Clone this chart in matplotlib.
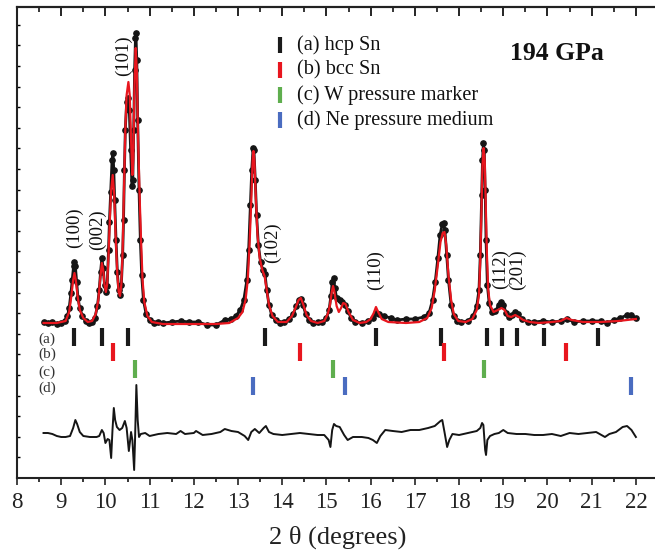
import numpy as np
import matplotlib
matplotlib.use("Agg")
import matplotlib.pyplot as plt

plt.rcParams['font.family'] = ['Liberation Serif', 'DejaVu Serif']

# ---------------- data (2theta in degrees, intensity in arbitrary units) ----------------
obs_tth = [8.60, 8.70, 8.80, 8.90, 9.00, 9.08, 9.14, 9.18, 9.22, 9.25, 9.28, 9.30, 9.32, 9.35, 9.38,
           9.42, 9.48, 9.55, 9.62, 9.70, 9.76, 9.82, 9.86, 9.89, 9.92, 9.95, 9.98, 10.01, 10.04, 10.07,
           10.09, 10.12, 10.15, 10.17, 10.19, 10.21, 10.24, 10.27, 10.30, 10.33, 10.36, 10.39, 10.41,
           10.43, 10.45, 10.48, 10.51, 10.54, 10.57, 10.60, 10.62, 10.64, 10.66, 10.68, 10.69, 10.71,
           10.73, 10.76, 10.79, 10.82, 10.86, 10.92, 11.00, 11.10, 11.20, 11.30, 11.50, 11.70, 11.90,
           12.10, 12.30, 12.50, 12.70, 12.85, 12.95, 13.05, 13.13, 13.20, 13.24, 13.28, 13.31, 13.34,
           13.36, 13.39, 13.42, 13.46, 13.51, 13.56, 13.61, 13.65, 13.70, 13.76, 13.85, 13.95, 14.05,
           14.15, 14.25, 14.32, 14.37, 14.42, 14.47, 14.53, 14.60, 14.70, 14.80, 14.90, 15.00, 15.06,
           15.10, 15.13, 15.16, 15.19, 15.23, 15.30, 15.36, 15.42, 15.48, 15.56, 15.65, 15.80, 15.95,
           16.05, 16.13, 16.20, 16.30, 16.45, 16.60, 16.80, 17.00, 17.20, 17.32, 17.40, 17.46, 17.52,
           17.57, 17.62, 17.65, 17.68, 17.72, 17.76, 17.82, 17.88, 17.95, 18.05, 18.20, 18.32, 18.40,
           18.45, 18.48, 18.51, 18.53, 18.55, 18.57, 18.59, 18.61, 18.64, 18.68, 18.74, 18.82, 18.90,
           18.95, 19.00, 19.07, 19.13, 19.20, 19.27, 19.33, 19.42, 19.55, 19.70, 19.90, 20.10, 20.30,
           20.45, 20.60, 20.80, 21.00, 21.20, 21.35, 21.50, 21.65, 21.80, 21.90, 22.00]
obs_int = [156, 155, 156, 154, 155, 157, 162, 170, 185, 198, 212, 216, 212, 196, 180,
           170, 162, 157, 155, 156, 160, 172, 188, 206, 220, 210, 193, 186, 192, 228,
           256, 286, 318, 325, 308, 278, 238, 206, 188, 183, 193, 223, 258,
           308, 348, 376, 380, 368, 328, 292, 298, 348, 408, 440, 445, 418,
           358, 288, 238, 203, 178, 164, 158, 155, 156, 155, 156, 157, 156,
           156, 153, 153, 158, 159, 162, 168, 178, 198, 228, 273, 308, 330,
           328, 298, 263, 233, 216, 208, 204, 188, 173, 163, 158, 155, 156,
           159, 164, 172, 178, 179, 173, 164, 158, 155, 156, 156, 160, 168,
           182, 196, 200, 190, 180, 178, 176, 173, 167, 160, 156, 155, 157,
           160, 165, 164, 162, 160, 158, 159, 159, 161, 165, 178, 196, 220,
           243, 254, 255, 248, 223, 198, 173, 162, 157, 156, 157, 162, 172,
           188, 223, 283, 318, 335, 328, 288, 238, 193, 175, 166, 167, 173,
           176, 173, 165, 161, 163, 166, 164, 159, 156, 156, 157, 156, 157,
           159, 156, 157, 157, 157, 155, 158, 160, 163, 163, 160]

calc_tth = [8.60, 8.90, 9.10, 9.18, 9.23, 9.27, 9.30, 9.33, 9.37, 9.42, 9.50, 9.60, 9.70, 9.78,
            9.84, 9.88, 9.92, 9.95, 9.98, 10.01, 10.04, 10.07, 10.10, 10.13, 10.165, 10.20, 10.23,
            10.27, 10.30, 10.33, 10.36, 10.39, 10.42, 10.45, 10.48, 10.52, 10.55, 10.58, 10.61, 10.63,
            10.655, 10.685, 10.71, 10.74, 10.78, 10.81, 10.84, 10.88, 10.95, 11.05, 11.30, 12.00,
            12.50, 12.80, 13.00, 13.10, 13.17, 13.22, 13.26, 13.30, 13.33, 13.35, 13.37, 13.40, 13.44,
            13.49, 13.55, 13.60, 13.65, 13.70, 13.78, 13.90, 14.10, 14.22, 14.30, 14.37, 14.42, 14.48,
            14.55, 14.65, 14.80, 14.95, 15.03, 15.08, 15.12, 15.15, 15.18, 15.23, 15.28, 15.33, 15.38,
            15.43, 15.50, 15.60, 15.75, 15.90, 16.00, 16.07, 16.12, 16.17, 16.25, 16.40, 16.80, 17.10,
            17.28, 17.38, 17.45, 17.52, 17.58, 17.63, 17.67, 17.71, 17.76, 17.82, 17.88, 17.98, 18.15,
            18.30, 18.40, 18.45, 18.48, 18.51, 18.53, 18.555, 18.58, 18.60, 18.63, 18.66, 18.70, 18.78,
            18.88, 18.96, 19.03, 19.10, 19.18, 19.27, 19.35, 19.45, 19.60, 19.80, 20.10, 20.30, 20.43,
            20.55, 20.80, 21.20, 21.60, 22.00]
calc_int = [155, 155, 157, 166, 182, 198, 205, 198, 182, 168, 160, 156, 157, 164,
            178, 198, 215, 208, 193, 186, 194, 223, 258, 288, 303, 283, 243,
            203, 186, 182, 193, 228, 288, 348, 383, 396, 383, 338, 303, 318,
            388, 430, 408, 338, 273, 233, 198, 176, 162, 156, 154, 154,
            154, 155, 160, 166, 178, 198, 233, 278, 318, 327, 318, 283, 243,
            220, 208, 202, 188, 173, 162, 156, 156, 162, 170, 178, 180, 173,
            163, 157, 155, 157, 164, 173, 186, 192, 186, 172, 166, 170, 175,
            174, 166, 158, 155, 156, 159, 165, 171, 166, 159, 156, 155, 156,
            160, 170, 188, 213, 236, 245, 246, 233, 203, 178, 164, 157, 156,
            159, 168, 183, 218, 273, 313, 330, 318, 278, 223, 188, 173, 166,
            168, 170, 168, 162, 161, 163, 161, 158, 156, 155, 156, 157, 160,
            158, 156, 156, 157, 159]

diff_tth = [8.6, 8.7, 8.8, 8.9, 9.0, 9.1, 9.2, 9.27, 9.32, 9.36, 9.42, 9.5, 9.65, 9.8, 9.86, 9.92,
            9.96, 10.0, 10.05, 10.09, 10.13, 10.16, 10.19, 10.22, 10.26, 10.32, 10.38, 10.44, 10.48,
            10.53, 10.56, 10.58, 10.61, 10.65, 10.67, 10.70, 10.73, 10.76, 10.8, 10.9, 11.0, 11.2,
            11.4, 11.6, 11.7, 11.8, 12.0, 12.05, 12.2, 12.4, 12.6, 12.7, 12.85, 13.0, 13.15, 13.23,
            13.3, 13.38, 13.48, 13.58, 13.63, 13.7, 13.8, 14.0, 14.2, 14.4, 14.6, 14.8, 14.95, 15.05,
            15.09, 15.13, 15.17, 15.22, 15.3, 15.4, 15.48, 15.6, 15.8, 15.95, 16.05, 16.14, 16.22,
            16.33, 16.5, 16.7, 16.9, 17.1, 17.3, 17.45, 17.58, 17.62, 17.67, 17.73, 17.78, 17.85,
            18.0, 18.2, 18.4, 18.48, 18.52, 18.55, 18.59, 18.61, 18.64, 18.7, 18.8, 18.9, 19.0, 19.1,
            19.3, 19.5, 19.7, 19.9, 20.1, 20.3, 20.5, 20.7, 20.9, 21.1, 21.3, 21.4, 21.55, 21.7, 21.8,
            21.9, 22.0]
diff_int = [45, 45, 44, 42, 41, 41, 42, 50, 58, 54, 46, 42, 41, 41, 42, 48,
            45, 35, 39, 38, 20, 48, 70, 58, 51, 48, 50, 57, 50,
            27, 38, 46, 38, 8, 38, 93, 58, 41, 44, 45, 42, 44,
            45, 44, 47, 44, 45, 47, 43, 44, 46, 49, 47, 46, 42, 38,
            46, 49, 45, 50, 52, 46, 44, 43, 44, 45, 44, 43, 43, 38,
            31, 48, 54, 52, 51, 43, 38, 41, 41, 40, 38, 35, 42,
            48, 47, 46, 48, 48, 50, 52, 57, 58, 46, 31, 38, 44,
            43, 45, 47, 50, 55, 53, 28, 23, 38, 42, 44, 45, 48, 45,
            44, 44, 43, 43, 44, 42, 45, 44, 45, 46, 41, 44, 46, 51, 52,
            48, 41]

# reflection positions (2theta)
hcp_pos = [9.29, 9.92, 10.52, 13.61, 16.12, 17.59, 18.63, 18.97, 19.31, 19.92, 21.15]
bcc_pos = [10.17, 14.40, 17.66, 20.42]
w_pos = [10.68, 15.15, 18.57]
ne_pos = [13.34, 15.42, 21.89]
tick_rows = [141.5, 126.5, 109, 92.5]
row_labels = ['(a)', '(b)', '(c)', '(d)']
row_colors = ['#1a1a1a', '#e8161e', '#5fae4e', '#4a6cc0']
legend_labels = ['(a) hcp Sn', '(b) bcc Sn', '(c) W pressure marker', '(d) Ne pressure medium']

hkl_labels = ['(100)', '(002)', '(101)', '(102)', '(110)', '(112)', '(201)']
hkl_x = [9.31, 9.81, 10.40, 13.79, 16.12, 18.93, 19.33]
hkl_y = [250, 248, 422, 235, 208, 209, 208]

# ---------------- figure ----------------
W, H = 655, 551
fig = plt.figure(figsize=(W / 100, H / 100), dpi=100)
ax = fig.add_axes([17 / W, 73 / H, 641 / W, 471 / H])
ax.set_xlim(8, 22.5)
ax.set_ylim(0, 471)

ax.plot(obs_tth, obs_int, color='#151515', lw=2.0, solid_capstyle='round', zorder=2)
ax.plot(obs_tth, obs_int, ls='none', marker='o', ms=3.8, color='#151515', zorder=2)
ax.plot(calc_tth, calc_int, color='#e8161e', lw=1.6, zorder=3)
ax.plot(diff_tth, diff_int, color='#151515', lw=1.4, zorder=3)

for pos, row, col in zip([hcp_pos, bcc_pos, w_pos, ne_pos], tick_rows, row_colors):
    ax.plot(pos, [row] * len(pos), ls='none', marker='|', ms=12.5, mew=3.0, color=col, zorder=4)

for lab, row in zip(row_labels, tick_rows):
    ax.text(8.68, row - 3, lab, fontsize=11, ha='center', va='center', color='#333333')

for lab, x, y in zip(hkl_labels, hkl_x, hkl_y):
    ax.text(x, y, lab, fontsize=13.5, rotation=90, ha='center', va='center', color='#111111')

# legend (custom)
leg_y = [433, 408, 383, 358]
for lab, col, y in zip(legend_labels, row_colors, leg_y):
    ax.plot([13.95], [y], ls='none', marker='|', ms=12, mew=3.0, color=col)
    ax.text(14.33, y, lab, fontsize=14.6, ha='left', va='center', color='#111111')

ax.text(20.22, 425, '194 GPa', fontsize=18.5, fontweight='bold', ha='center', va='center', color='#111111')

# axes styling
for s in ax.spines.values():
    s.set_linewidth(1.5)
    s.set_color('#222222')
ax.spines['right'].set_visible(False)

ax.set_xticks(np.arange(8, 23, 1))
ax.set_xticks(np.arange(8.5, 22.5, 0.5), minor=True)
ax.tick_params(axis='x', which='major', direction='out', length=5, width=1.2, labelsize=16.5,
               pad=5, colors='#222222', top=False)
ax.tick_params(axis='x', which='minor', direction='out', length=3, width=1.1, top=False)
ax.set_yticks(np.arange(20.6, 471, 20.6))
ax.set_yticklabels([])
ax.tick_params(axis='y', which='major', direction='in', length=2.5, width=1.0, right=False)

sec = ax.secondary_xaxis('top')
sec.set_xticks(np.arange(8, 23, 1))
sec.set_xticks(np.arange(8.5, 22.5, 0.5), minor=True)
sec.set_xticklabels([])
sec.tick_params(which='major', direction='in', length=6.5, width=1.2)
sec.tick_params(which='minor', direction='in', length=3.6, width=1.1)
sec.spines['top'].set_linewidth(1.5)

ax.set_xlabel('2 θ (degrees)', fontsize=19, labelpad=9, color='#222222')

fig.savefig('out.png', dpi=100)
